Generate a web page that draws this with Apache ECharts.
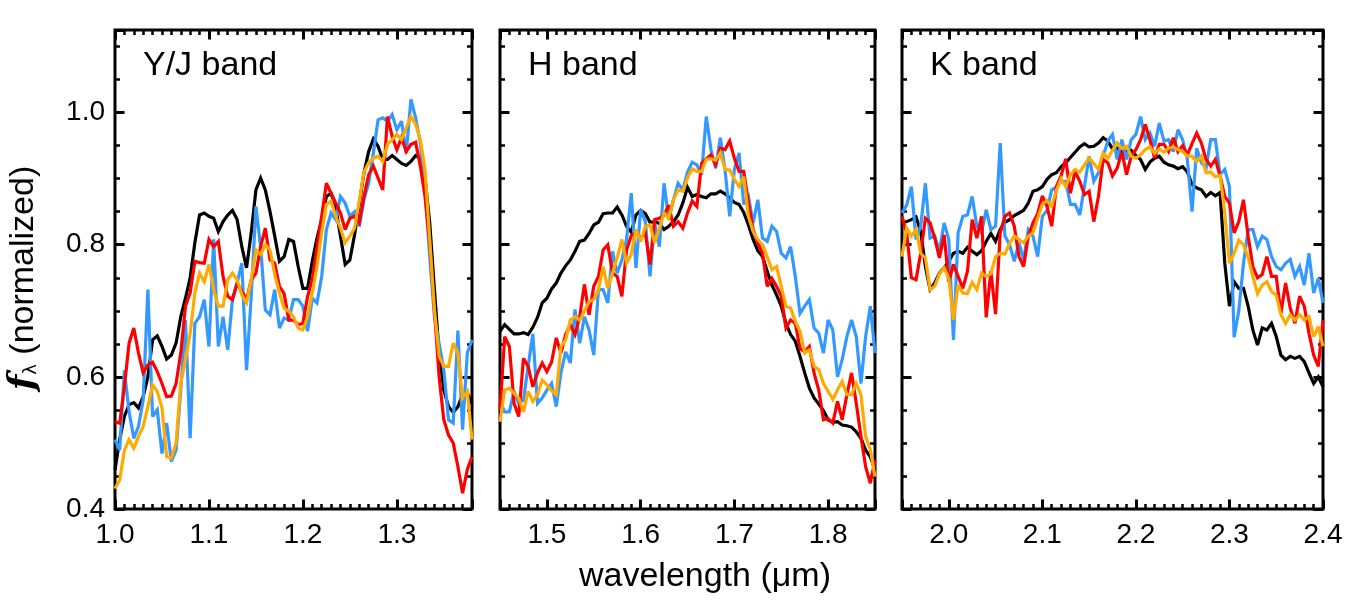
<!DOCTYPE html>
<html>
<head>
<meta charset="utf-8">
<title>normalized spectra</title>
<script src="https://cdn.jsdelivr.net/npm/echarts/dist/echarts.min.js"></script>
<style>
  html, body { margin: 0; padding: 0; background: #fff; }
  #chart { width: 1350px; height: 600px; }
</style>
</head>
<body>
<div id="chart"></div>
<script>
// wavelength sampling of the spectra (micron)
const waveStep = 0.005
const yjStart = 1.0
const hStart = 1.45
const kStart = 1.95

// tick labels
const xTickLabels = ['1.0', '1.1', '1.2', '1.3', '1.5', '1.6', '1.7', '1.8', '2.0', '2.1', '2.2', '2.3', '2.4']
const yTickLabels = ['0.4', '0.6', '0.8', '1.0']
const bandNames = ['Y/J band', 'H band', 'K band']

// Y/J band, 1.000 - 1.380 um
const yjBlack = [
  0.459, 0.505, 0.54, 0.558, 0.561, 0.553, 0.570, 0.60, 0.656, 0.662,
  0.646, 0.627, 0.633, 0.651, 0.691, 0.719, 0.75, 0.803, 0.845, 0.848,
  0.843, 0.84, 0.82, 0.835, 0.845, 0.852, 0.838, 0.797, 0.765, 0.818,
  0.883, 0.901, 0.883, 0.85, 0.813, 0.775, 0.782, 0.808, 0.805, 0.767,
  0.734, 0.734, 0.775, 0.81, 0.838, 0.873, 0.878, 0.856, 0.813, 0.77,
  0.777, 0.815, 0.861, 0.909, 0.941, 0.96, 0.949, 0.929, 0.929, 0.935,
  0.929, 0.923, 0.92, 0.926, 0.935, 0.931, 0.901, 0.833, 0.732, 0.636,
  0.58, 0.555, 0.546, 0.555, 0.573, 0.575, 0.56
]
const yjRed = [
  0.532, 0.53, 0.585, 0.651, 0.674, 0.636, 0.606, 0.618, 0.622, 0.608,
  0.59, 0.57, 0.571, 0.59, 0.636, 0.707, 0.727, 0.775, 0.773, 0.772,
  0.808, 0.797, 0.805, 0.752, 0.722, 0.717, 0.742, 0.729, 0.717, 0.747,
  0.757, 0.797, 0.825, 0.777, 0.772, 0.737, 0.726, 0.686, 0.686, 0.679,
  0.681, 0.722, 0.747, 0.797, 0.843, 0.893, 0.878, 0.863, 0.848, 0.823,
  0.84, 0.843, 0.833, 0.873, 0.906, 0.919, 0.901, 0.883, 0.994, 0.964,
  0.944, 0.962, 0.941, 0.952, 0.955, 0.919, 0.873, 0.803, 0.702, 0.6,
  0.535, 0.512, 0.5, 0.464, 0.424, 0.46, 0.479
]
const yjBlue = [
  0.505, 0.489, 0.61, 0.547, 0.507, 0.525, 0.565, 0.732, 0.54, 0.55,
  0.484, 0.53, 0.472, 0.489, 0.58, 0.686, 0.507, 0.681, 0.691, 0.717,
  0.646, 0.808, 0.646, 0.691, 0.641, 0.717, 0.742, 0.772, 0.61, 0.722,
  0.858, 0.797, 0.701, 0.694, 0.732, 0.674, 0.689, 0.686, 0.717, 0.717,
  0.707, 0.669, 0.719, 0.712, 0.752, 0.823, 0.848, 0.838, 0.873, 0.863,
  0.843, 0.85, 0.828, 0.868, 0.893, 0.939, 0.989, 0.992, 0.987, 0.997,
  0.974, 0.987, 0.939, 1.02, 0.992, 0.954, 0.883, 0.782, 0.691, 0.651,
  0.61, 0.535, 0.53, 0.67, 0.52, 0.636, 0.656
]
const yjOrange = [
  0.431, 0.444, 0.489, 0.505, 0.492, 0.51, 0.525, 0.555, 0.588, 0.578,
  0.553, 0.479, 0.477, 0.5, 0.59, 0.626, 0.666, 0.727, 0.757, 0.744,
  0.77, 0.732, 0.707, 0.707, 0.747, 0.757, 0.747, 0.724, 0.712, 0.747,
  0.792, 0.785, 0.8, 0.792, 0.755, 0.727, 0.704, 0.699, 0.691, 0.674,
  0.671, 0.691, 0.727, 0.767, 0.818, 0.861, 0.866, 0.843, 0.825, 0.803,
  0.813, 0.825, 0.866, 0.91, 0.924, 0.931, 0.934, 0.926, 0.952, 0.959,
  0.967, 0.959, 0.977, 0.994, 0.982, 0.959, 0.914, 0.808, 0.702, 0.631,
  0.616, 0.616, 0.651, 0.636, 0.568, 0.578, 0.505
]

// H band, 1.450 - 1.850 um
const hBlack = [
  0.669, 0.679, 0.672, 0.665, 0.665, 0.667, 0.664, 0.675, 0.69, 0.712,
  0.719, 0.733, 0.742, 0.757, 0.768, 0.777, 0.79, 0.805, 0.807, 0.817,
  0.83, 0.834, 0.847, 0.848, 0.848, 0.857, 0.845, 0.828, 0.819, 0.845,
  0.852, 0.847, 0.834, 0.835, 0.832, 0.823, 0.828, 0.835, 0.845, 0.863,
  0.887, 0.873, 0.876, 0.873, 0.871, 0.877, 0.877, 0.881, 0.877, 0.871,
  0.864, 0.861, 0.849, 0.83, 0.808, 0.791, 0.782, 0.76, 0.739, 0.724,
  0.707, 0.681, 0.664, 0.654, 0.631, 0.606, 0.583, 0.568, 0.559, 0.549,
  0.535, 0.531, 0.532, 0.527, 0.526, 0.524, 0.517, 0.507, 0.489, 0.479,
  0.459
]
const hRed = [
  0.55, 0.661, 0.646, 0.56, 0.54, 0.628, 0.616, 0.585, 0.606, 0.621,
  0.608, 0.622, 0.659, 0.636, 0.664, 0.679, 0.664, 0.691, 0.74, 0.694,
  0.737, 0.752, 0.792, 0.8, 0.757, 0.752, 0.722, 0.792, 0.814, 0.818,
  0.81, 0.818, 0.77, 0.838, 0.84, 0.845, 0.86, 0.828, 0.835, 0.825,
  0.848, 0.866, 0.858, 0.923, 0.93, 0.936, 0.921, 0.946, 0.944, 0.957,
  0.931, 0.911, 0.911, 0.863, 0.823, 0.803, 0.787, 0.737, 0.749, 0.737,
  0.722, 0.674, 0.686, 0.681, 0.643, 0.638, 0.646, 0.606, 0.58, 0.535,
  0.537, 0.53, 0.563, 0.535, 0.573, 0.606, 0.56, 0.51, 0.464, 0.439,
  0.474
]
const hBlue = [
  0.563, 0.547, 0.547, 0.578, 0.56, 0.565, 0.616, 0.665, 0.56, 0.568,
  0.58, 0.59, 0.555, 0.606, 0.638, 0.621, 0.702, 0.651, 0.691, 0.671,
  0.633, 0.732, 0.732, 0.712, 0.79, 0.757, 0.777, 0.808, 0.878, 0.765,
  0.853, 0.835, 0.752, 0.833, 0.797, 0.893, 0.838, 0.868, 0.893, 0.883,
  0.91, 0.925, 0.921, 0.906, 0.994, 0.944, 0.916, 0.962, 0.914, 0.843,
  0.914, 0.939, 0.861, 0.873, 0.833, 0.868, 0.81, 0.805, 0.828, 0.82,
  0.787, 0.78, 0.797, 0.752, 0.696, 0.707, 0.717, 0.674, 0.666, 0.636,
  0.686, 0.671, 0.6, 0.626, 0.661, 0.686, 0.661, 0.59, 0.661, 0.707,
  0.636
]
const hOrange = [
  0.532, 0.58, 0.583, 0.575, 0.568, 0.547, 0.578, 0.563, 0.573, 0.595,
  0.588, 0.579, 0.573, 0.646, 0.656, 0.686, 0.691, 0.686, 0.699, 0.714,
  0.717, 0.732, 0.767, 0.734, 0.757, 0.78, 0.808, 0.772, 0.785, 0.823,
  0.805, 0.828, 0.83, 0.803, 0.825, 0.848, 0.84, 0.868, 0.883, 0.881,
  0.901, 0.915, 0.911, 0.911, 0.929, 0.93, 0.928, 0.939, 0.914, 0.913,
  0.899, 0.888, 0.903, 0.843, 0.82, 0.808, 0.8, 0.782, 0.762, 0.767,
  0.737, 0.707, 0.704, 0.684, 0.669, 0.636, 0.641, 0.616, 0.611, 0.59,
  0.578, 0.566, 0.58, 0.593, 0.573, 0.573, 0.59, 0.573, 0.51, 0.49,
  0.449
]

// K band, 1.950 - 2.400 um
const kBlack = [
  0.833, 0.835, 0.838, 0.842, 0.82, 0.767, 0.732, 0.742, 0.757, 0.765,
  0.775, 0.787, 0.79, 0.787, 0.796, 0.79, 0.785, 0.791, 0.805, 0.817,
  0.805, 0.823, 0.834, 0.838, 0.844, 0.848, 0.852, 0.863, 0.881, 0.883,
  0.888, 0.899, 0.906, 0.909, 0.918, 0.924, 0.932, 0.94, 0.948, 0.953,
  0.948, 0.949, 0.954, 0.962, 0.957, 0.945, 0.946, 0.94, 0.941, 0.943,
  0.935, 0.929, 0.914, 0.925, 0.931, 0.934, 0.925, 0.921, 0.919, 0.915,
  0.918, 0.91, 0.891, 0.886, 0.883, 0.873, 0.879, 0.874, 0.879, 0.772,
  0.707, 0.744, 0.734, 0.734, 0.707, 0.671, 0.648, 0.674, 0.671, 0.681,
  0.661, 0.633, 0.626, 0.631, 0.628, 0.631, 0.623, 0.606, 0.59, 0.6,
  0.585
]
const kRed = [
  0.843, 0.818, 0.75, 0.747, 0.787, 0.84, 0.833, 0.81, 0.78, 0.815,
  0.744, 0.77, 0.752, 0.734, 0.76, 0.838, 0.81, 0.843, 0.69, 0.76,
  0.695, 0.818, 0.843, 0.848, 0.828, 0.782, 0.767, 0.813, 0.833, 0.847,
  0.874, 0.858, 0.828, 0.888, 0.904, 0.93, 0.878, 0.911, 0.896, 0.876,
  0.881, 0.835, 0.873, 0.929, 0.924, 0.904, 0.916, 0.941, 0.906, 0.934,
  0.944, 0.959, 0.982, 0.959, 0.931, 0.952, 0.952, 0.941, 0.962, 0.941,
  0.95, 0.936, 0.953, 0.969, 0.954, 0.929, 0.919, 0.929, 0.904, 0.873,
  0.863, 0.818, 0.835, 0.868, 0.813, 0.767, 0.75, 0.755, 0.782, 0.752,
  0.752, 0.696, 0.742, 0.704, 0.681, 0.722, 0.707, 0.666, 0.633, 0.616,
  0.686
]
const kBlue = [
  0.848, 0.86, 0.888, 0.808, 0.828, 0.893, 0.81, 0.813, 0.79, 0.833,
  0.808, 0.656, 0.818, 0.843, 0.845, 0.873, 0.828, 0.818, 0.853, 0.823,
  0.828, 0.954, 0.813, 0.8, 0.775, 0.803, 0.777, 0.823, 0.813, 0.782,
  0.843, 0.852, 0.883, 0.887, 0.896, 0.896, 0.861, 0.861, 0.845, 0.888,
  0.934, 0.896, 0.909, 0.934, 0.957, 0.967, 0.929, 0.959, 0.929, 0.959,
  0.967, 0.994, 0.959, 0.969, 0.949, 0.984, 0.957, 0.959, 0.941, 0.974,
  0.959, 0.929, 0.85, 0.946, 0.924, 0.916, 0.959, 0.959, 0.906, 0.914,
  0.888, 0.66, 0.70, 0.772, 0.823, 0.823, 0.797, 0.813, 0.808, 0.782,
  0.767, 0.762, 0.772, 0.778, 0.752, 0.767, 0.739, 0.787, 0.727, 0.749,
  0.712
]
const kOrange = [
  0.782, 0.825, 0.813, 0.823, 0.787, 0.78, 0.732, 0.737, 0.756, 0.765,
  0.749, 0.686, 0.739, 0.727, 0.726, 0.743, 0.732, 0.757, 0.752, 0.756,
  0.782, 0.787, 0.786, 0.802, 0.813, 0.808, 0.803, 0.813, 0.818, 0.84,
  0.861, 0.867, 0.858, 0.882, 0.9, 0.888, 0.906, 0.914, 0.91, 0.921,
  0.931, 0.923, 0.914, 0.939, 0.931, 0.943, 0.954, 0.946, 0.949, 0.934,
  0.931, 0.936, 0.944, 0.948, 0.938, 0.945, 0.94, 0.946, 0.948, 0.944,
  0.941, 0.934, 0.934, 0.926, 0.934, 0.909, 0.91, 0.903, 0.905, 0.848,
  0.772, 0.787, 0.807, 0.8, 0.781, 0.752, 0.726, 0.739, 0.744, 0.729,
  0.724, 0.694, 0.681, 0.694, 0.686, 0.694, 0.686, 0.691, 0.661, 0.676,
  0.646
]

const FONT = '"Liberation Sans", Arial, Helvetica, sans-serif'
const colors = { black: '#000000', blue: '#3399ff', red: '#ff0000', orange: '#ffaa00' }

function waveGrid (start, count) {
  const w = []
  for (let i = 0; i < count; i++) w.push(+(start + i * waveStep).toFixed(3))
  return w
}

const panels = [
  { name: bandNames[0], start: yjStart, min: 1.0, max: 1.38, black: yjBlack, blue: yjBlue, red: yjRed, orange: yjOrange },
  { name: bandNames[1], start: hStart, min: 1.45, max: 1.85, black: hBlack, blue: hBlue, red: hRed, orange: hOrange },
  { name: bandNames[2], start: kStart, min: 1.95, max: 2.4, black: kBlack, blue: kBlue, red: kRed, orange: kOrange }
]

// 画布位置
const boxes = [
  { left: 115, top: 30, width: 357, height: 479 },
  { left: 500, top: 30, width: 375, height: 479 },
  { left: 902, top: 30, width: 421, height: 479 }
]

const majorTick = { show: true, inside: true, length: 9.5, lineStyle: { color: '#000', width: 3 } }
const minorTick = { show: true, inside: true, length: 5, lineStyle: { color: '#000', width: 2.5 } }

function xLabel (v) {
  const s = v.toFixed(1)
  return (Math.abs(v * 10 - Math.round(v * 10)) < 1e-6 && xTickLabels.indexOf(s) >= 0) ? s : ''
}
function yLabel (v) {
  const s = v.toFixed(1)
  return (Math.abs(v * 5 - Math.round(v * 5)) < 1e-6 && yTickLabels.indexOf(s) >= 0) ? s : ''
}

const grid = []
const xAxis = []
const yAxis = []
const series = []
const graphic = []

panels.forEach(function (p, i) {
  grid.push(Object.assign({ show: true, borderColor: '#000', borderWidth: 3, backgroundColor: 'rgba(0,0,0,0)' }, boxes[i]))

  // 主刻度 + 次刻度, 上下各一条
  const xBase = { type: 'value', gridIndex: i, min: p.min, max: p.max, splitLine: { show: false }, axisLine: { show: false, onZero: false } }
  xAxis.push(Object.assign({}, xBase, {
    position: 'bottom', splitNumber: 4, axisTick: majorTick,
    axisLabel: { show: true, formatter: xLabel, color: '#000', fontSize: 28, fontFamily: FONT, margin: 12 }
  }))
  xAxis.push(Object.assign({}, xBase, { position: 'top', splitNumber: 4, axisTick: majorTick, axisLabel: { show: false } }))
  xAxis.push(Object.assign({}, xBase, { position: 'bottom', interval: 0.01, axisTick: minorTick, axisLabel: { show: false } }))
  xAxis.push(Object.assign({}, xBase, { position: 'top', interval: 0.01, axisTick: minorTick, axisLabel: { show: false } }))

  const yBase = { type: 'value', gridIndex: i, min: 0.4, max: 1.125, splitLine: { show: false }, axisLine: { show: false, onZero: false } }
  yAxis.push(Object.assign({}, yBase, {
    position: 'left', interval: 0.2, axisTick: majorTick,
    axisLabel: { show: i === 0, formatter: yLabel, color: '#000', fontSize: 28, fontFamily: FONT, margin: 10 }
  }))
  yAxis.push(Object.assign({}, yBase, { position: 'right', interval: 0.2, axisTick: majorTick, axisLabel: { show: false } }))
  yAxis.push(Object.assign({}, yBase, { position: 'left', interval: 0.05, axisTick: minorTick, axisLabel: { show: false } }))
  yAxis.push(Object.assign({}, yBase, { position: 'right', interval: 0.05, axisTick: minorTick, axisLabel: { show: false } }))

  const wave = waveGrid(p.start, p.black.length);
  ['black', 'blue', 'red', 'orange'].forEach(function (c) {
    series.push({
      name: p.name + ' ' + c,
      type: 'line',
      xAxisIndex: i * 4,
      yAxisIndex: i * 4,
      data: p[c].map(function (v, k) { return [wave[k], v] }),
      showSymbol: false,
      symbol: 'none',
      clip: true,
      lineStyle: { color: colors[c], width: 3.2, join: 'miter', miterLimit: 3 },
      z: 3
    })
  })

  // band name in the upper left corner
  graphic.push({
    type: 'text', x: boxes[i].left + 28, y: 66, z: 10,
    style: { text: p.name, font: '34px ' + FONT, fill: '#000', align: 'left', verticalAlign: 'middle' }
  })
})

// axis titles
graphic.push({
  type: 'text', x: 705, y: 577, z: 10,
  style: { text: 'wavelength (\u03bcm)', font: '34px ' + FONT, fill: '#000', align: 'center', verticalAlign: 'middle' }
})
graphic.push({
  type: 'text', x: 24, y: 278, rotation: Math.PI / 2, z: 10,
  style: {
    text: '{f|f}{l|\u03bb}{n| (normalized)}',
    align: 'center',
    verticalAlign: 'middle',
    fill: '#000',
    rich: {
      f: { fontFamily: '"DejaVu Serif", serif', fontStyle: 'italic', fontWeight: 'bold', fontSize: 36, lineHeight: 40, verticalAlign: 'middle' },
      l: { fontFamily: '"DejaVu Sans", sans-serif', fontSize: 18, lineHeight: 40, verticalAlign: 'bottom', padding: [0, 0, 4, 0] },
      n: { fontFamily: FONT, fontSize: 34, lineHeight: 40, verticalAlign: 'middle' }
    }
  }
})

let myChart = echarts.init(document.getElementById('chart'), null, { renderer: 'canvas' })
myChart.setOption({
  animation: false,
  backgroundColor: '#fff',
  grid: grid,
  xAxis: xAxis,
  yAxis: yAxis,
  series: series,
  graphic: graphic
})
</script>
</body>
</html>
